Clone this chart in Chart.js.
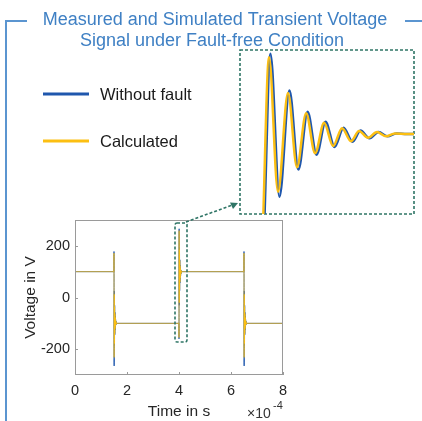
<!DOCTYPE html>
<html>
<head>
<meta charset="utf-8">
<script src="https://cdn.jsdelivr.net/npm/chart.js@4.4.0/dist/chart.umd.min.js"></script>
<style>
  html, body { margin: 0; padding: 0; background: #fff; }
  #wrap { position: relative; width: 422px; height: 421px; overflow: hidden; }
  #main { position: absolute; left: 0; top: 0; }
  #zoom { position: absolute; left: 240px; top: 50px; }
</style>
</head>
<body>
<div id="wrap">
  <canvas id="main" width="422" height="421"></canvas>
  <canvas id="zoom" width="174" height="164"></canvas>
</div>
<script>
// time in units of 1e-4 s, voltage in V
var edgeTimes = [1.5, 4.0, 6.5];
var edgeKinds = ['fall', 'rise', 'fall'];
var startLevel = 100;
var endLevel = -100;
var endTime = 8;

// ringing after each switching edge, offsets in microseconds
var offsetsYellow = [-0.24, -0.08, 0.48, 1.1, 1.79, 2.41, 3.04, 3.66, 4.28, 4.9, 5.52, 6.14, 6.69, 7.31, 7.93, 8.56, 9.16, 10.0];
var offsetsBlue   = [-0.24, 0.0, 0.58, 1.2, 1.89, 2.51, 3.14, 3.76, 4.38, 5.0, 5.62, 6.24, 6.79, 7.41, 8.03, 8.66, 9.26, 10.0];

var riseYellow = [-100, -155, 259, -20, 185, 31, 143, 60, 123, 75, 112, 85, 106, 92, 104, 95, 101, 100];
var riseBlue   = [-100, -160, 266, -30, 190, 26, 146, 57, 125, 73, 113, 84, 107, 91, 104, 95, 101, 100];
var fallYellow = [100, 172, -232, 12, -178, -36, -140, -62, -121, -77, -111, -86, -106, -92, -104, -96, -101, -100];
var fallBlue   = [100, 178, -265, 25, -188, -30, -144, -58, -124, -74, -112, -85, -107, -91, -104, -96, -101, -100];

var xTicks = [0, 2, 4, 6, 8];
var yTicks = [-200, 0, 200];
var zoomTimeRange = [3.9848, 4.1048];
var zoomVoltRange = [-66, 274];

var blue = '#1f57ad';
var yellow = '#fcbf12';
var thinYellow = 'rgba(252, 191, 18, 0.72)';
var frameBlue = '#5b95d0';
var dashGreen = '#2f7566';
var font = "'Liberation Sans', Arial, sans-serif";

Chart.defaults.font.family = font;

function buildSeries(offsets, rise, fall) {
  var pts = [{x: 0, y: startLevel}];
  for (var i = 0; i < edgeTimes.length; i++) {
    var vals = edgeKinds[i] == 'rise' ? rise : fall;
    for (var j = 0; j < offsets.length; j++) {
      pts.push({x: edgeTimes[i] + offsets[j] / 100, y: vals[j]});
    }
  }
  pts.push({x: endTime, y: endLevel});
  return pts;
}

function datasets(width, yellowColor) {
  return [{
    label: 'Calculated',
    data: buildSeries(offsetsYellow, riseYellow, fallYellow),
    borderColor: yellowColor,
    borderWidth: width,
    pointRadius: 0,
    cubicInterpolationMode: 'monotone',
    order: 0
  }, {
    label: 'Without fault',
    data: buildSeries(offsetsBlue, riseBlue, fallBlue),
    borderColor: blue,
    borderWidth: width,
    pointRadius: 0,
    cubicInterpolationMode: 'monotone',
    order: 1
  }];
}

var decorations = {
  id: 'decorations',
  afterDraw: function(chart) {
    var ctx = chart.ctx;
    var area = chart.chartArea;
    ctx.save();

    // title
    ctx.fillStyle = '#3f80c4';
    ctx.font = '18px ' + font;
    ctx.textAlign = 'center';
    ctx.textBaseline = 'alphabetic';
    ctx.fillText('Measured and Simulated Transient Voltage', 215, 25);
    ctx.fillText('Signal under Fault-free Condition', 212, 46);

    // frame
    ctx.strokeStyle = frameBlue;
    ctx.lineWidth = 2;
    ctx.beginPath();
    ctx.moveTo(27, 21); ctx.lineTo(6, 21); ctx.lineTo(6, 421);
    ctx.moveTo(405, 21); ctx.lineTo(422, 21);
    ctx.stroke();

    // legend
    ctx.lineWidth = 3;
    ctx.strokeStyle = blue;
    ctx.beginPath(); ctx.moveTo(43, 94); ctx.lineTo(89, 94); ctx.stroke();
    ctx.strokeStyle = yellow;
    ctx.beginPath(); ctx.moveTo(43, 141); ctx.lineTo(89, 141); ctx.stroke();
    ctx.fillStyle = '#1a1a1a';
    ctx.font = '16.5px ' + font;
    ctx.textAlign = 'left';
    ctx.textBaseline = 'middle';
    ctx.fillText('Without fault', 100, 95);
    ctx.fillText('Calculated', 100, 142);

    // axes box and inward ticks
    ctx.strokeStyle = '#9a9a9a';
    ctx.lineWidth = 1;
    ctx.strokeRect(area.left + 0.5, area.top + 0.5, area.right - area.left - 1, area.bottom - area.top - 1);
    var xs = chart.scales.x, ys = chart.scales.y;
    ctx.beginPath();
    xTicks.forEach(function(v) {
      var px = Math.round(xs.getPixelForValue(v)) + 0.5;
      ctx.moveTo(px, area.bottom); ctx.lineTo(px, area.bottom - 3);
    });
    yTicks.forEach(function(v) {
      var py = Math.round(ys.getPixelForValue(v)) + 0.5;
      ctx.moveTo(area.left, py); ctx.lineTo(area.left + 3, py);
    });
    ctx.stroke();

    // exponent
    ctx.fillStyle = '#333';
    ctx.textAlign = 'left';
    ctx.textBaseline = 'alphabetic';
    ctx.font = '14px ' + font;
    ctx.fillText('\u00d710', 247, 418);
    ctx.font = '11px ' + font;
    ctx.fillText('-4', 273, 409);

    // dashed zoom marker, arrow, inset frame
    ctx.strokeStyle = dashGreen;
    ctx.fillStyle = dashGreen;
    ctx.lineWidth = 1.6;
    ctx.setLineDash([3, 2]);
    ctx.beginPath();
    ctx.roundRect(175, 223, 12, 119, 2);
    ctx.stroke();
    ctx.beginPath();
    ctx.moveTo(186, 222); ctx.lineTo(231, 205.5);
    ctx.stroke();
    ctx.strokeRect(240, 50, 174, 164);
    ctx.setLineDash([]);
    ctx.beginPath();
    ctx.moveTo(238, 203); ctx.lineTo(230, 202.5); ctx.lineTo(233, 209);
    ctx.closePath();
    ctx.fill();

    ctx.restore();
  }
};

var mainChart = new Chart(document.getElementById('main').getContext('2d'), {
  type: 'line',
  data: { datasets: datasets(1, thinYellow) },
  options: {
    responsive: false,
    animation: false,
    layout: { padding: { left: 10, top: 220, right: 139, bottom: 0 } },
    plugins: { legend: { display: false }, tooltip: { enabled: false } },
    scales: {
      x: {
        type: 'linear', min: 0, max: 8,
        afterFit: function(s) { s.height = 46; },
        afterBuildTicks: function(s) { s.ticks = xTicks.map(function(v) { return {value: v}; }); },
        grid: { display: false, drawTicks: false },
        border: { display: false },
        ticks: { padding: 7, color: '#262626', font: { size: 14.5 }, maxRotation: 0, autoSkip: false,
          callback: function(v) { return String(v); } },
        title: { display: true, text: 'Time in s', color: '#262626', font: { size: 15.5 }, padding: { top: 0, bottom: 0 } }
      },
      y: {
        type: 'linear', min: -300, max: 300,
        afterFit: function(s) { s.width = 65; },
        afterBuildTicks: function(s) { s.ticks = yTicks.map(function(v) { return {value: v}; }); },
        grid: { display: false, drawTicks: false },
        border: { display: false },
        ticks: { padding: 5, color: '#262626', font: { size: 14.5 },
          callback: function(v) { return String(v); } },
        title: { display: true, text: 'Voltage in V', color: '#262626', font: { size: 15.5 }, padding: { top: 11, bottom: 0 } }
      }
    }
  },
  plugins: [decorations]
});

var zoomChart = new Chart(document.getElementById('zoom').getContext('2d'), {
  type: 'line',
  data: { datasets: datasets(2.5, yellow) },
  options: {
    responsive: false,
    animation: false,
    layout: { padding: 0 },
    plugins: { legend: { display: false }, tooltip: { enabled: false } },
    scales: {
      x: { type: 'linear', display: false, min: zoomTimeRange[0], max: zoomTimeRange[1] },
      y: { display: false, min: zoomVoltRange[0], max: zoomVoltRange[1] }
    }
  }
});
</script>
</body>
</html>
